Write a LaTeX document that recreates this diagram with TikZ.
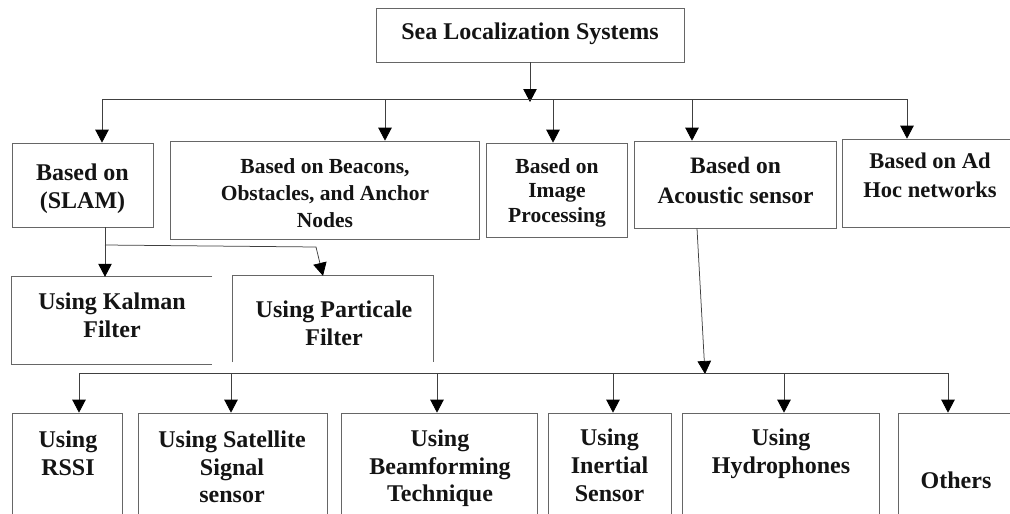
\documentclass[tikz,border=0pt]{standalone}
\usepackage{fontspec}
\setmainfont{Liberation Serif}
\usetikzlibrary{arrows.meta}
\definecolor{boxc}{HTML}{666666}
\definecolor{linec}{HTML}{404040}
\definecolor{txtc}{HTML}{141414}
\newcommand\fz[2]{\fontsize{#1pt}{#2pt}\selectfont\bfseries}
\tikzset{
  box/.style={draw=boxc, line width=0.7pt, rectangle, inner sep=0pt},
  openbox/.style={draw=none, rectangle, inner sep=0pt},
  edge/.style={draw=boxc, line width=0.7pt},
  lbl/.style={align=center, inner sep=0pt, text=txtc, anchor=north},
  conn/.style={draw=linec, line width=0.75pt},
  arr/.style={conn, -{Triangle[width=13.5pt,length=13pt,color=black,fill=black]}},
}
\begin{document}
\begin{tikzpicture}[x=1pt,y=-1pt]
\useasboundingbox[fill=white] (0,0) rectangle (1010,514);
\clip (0,0) rectangle (1010,514);

% root
\node[box, minimum width=308pt, minimum height=54pt] (root) at (530,35) {};
\node[lbl, anchor=base, font=\fz{24}{28}] (troot) at (530,39) {Sea Localization Systems};

% level 1
\node[box, minimum width=141pt, minimum height=84pt] (slam) at (82.5,185) {};
\node[lbl, font=\fz{24}{28}] (tslam) at (82.5,164) {Based on\\(SLAM)};

\node[box, minimum width=309pt, minimum height=98pt] (bea) at (324.5,190) {};
\node[lbl, font=\fz{21.5}{27}] (tbea) at (325,158) {Based on Beacons,\\Obstacles, and Anchor\\Nodes};

\node[box, minimum width=141pt, minimum height=94pt] (img) at (556.5,190) {};
\node[lbl, font=\fz{21.5}{24.5}] (timg) at (557,158) {Based on\\Image\\Processing};

\node[box, minimum width=202pt, minimum height=87pt] (aco) at (735,184.5) {};
\node[lbl, font=\fz{23.5}{30}] (taco) at (735.5,157) {Based on\\Acoustic sensor};

\node[box, minimum width=180pt, minimum height=88pt] (adh) at (932,183) {};
\node[lbl, font=\fz{22.5}{29}] (tadh) at (930,153) {Based on Ad\\Hoc networks};

% level 2 (SLAM)
\node[openbox, minimum width=200pt, minimum height=87pt] (kal) at (112,320.5) {};
\draw[edge] (kal.north east) -- (kal.north west) -- (kal.south west) -- (kal.south east);
\node[lbl, font=\fz{24}{28}] (tkal) at (112,293) {Using Kalman\\Filter};

\node[openbox, minimum width=200pt, minimum height=86pt] (par) at (333,319) {};
\draw[edge] (par.south west) -- (par.north west) -- (par.north east) -- (par.south east);
\node[lbl, font=\fz{24}{28}] (tpar) at (334,301) {Using Particale\\Filter};

% bottom row
\node[box, minimum width=110pt, minimum height=120pt] (rssi) at (67,473) {};
\node[lbl, font=\fz{24}{27.5}] (trssi) at (68,431) {Using\\RSSI};

\node[box, minimum width=189pt, minimum height=120pt] (sat) at (232.5,473) {};
\node[lbl, font=\fz{24}{27.5}] (tsat) at (232,431) {Using Satellite\\Signal\\sensor};

\node[box, minimum width=196pt, minimum height=120pt] (beam) at (439,473) {};
\node[lbl, font=\fz{24}{27.5}] (tbeam) at (440,430) {Using\\Beamforming\\Technique};

\node[box, minimum width=123pt, minimum height=120pt] (ine) at (609.5,473) {};
\node[lbl, font=\fz{24}{28}] (tine) at (609.5,429) {Using\\Inertial\\Sensor};

\node[box, minimum width=197pt, minimum height=120pt] (hyd) at (780.5,473) {};
\node[lbl, font=\fz{24}{28}] (thyd) at (781,429) {Using\\Hydrophones};

\node[box, minimum width=130pt, minimum height=120pt] (oth) at (963,473) {};
\node[lbl, anchor=base, font=\fz{24}{28}] (toth) at (956,488) {Others};

% connectors: root -> level 1
\coordinate (h1) at (530,102);
\draw[arr] (root.south) -- (h1);
\coordinate (bl) at (102,99);
\coordinate (b2) at (385,99);
\coordinate (b3) at (553,99);
\coordinate (b4) at (692,99);
\coordinate (br) at (907,99);
\draw[conn] (bl) -- (br);
\draw[arr] (bl) -- (bl |- slam.north);
\draw[arr] (b2) -- (b2 |- bea.north);
\draw[arr] (b3) -- (b3 |- img.north);
\draw[arr] (b4) -- (b4 |- aco.north);
\draw[arr] (br) -- (br |- adh.north);

% SLAM -> filters
\coordinate (s1) at (105,245);
\coordinate (s2) at (316,247);
\coordinate (s3) at (323,0);
\draw[conn] (s1 |- slam.south) -- (s1);
\draw[arr] (s1) -- (s1 |- kal.north);
\draw[arr] (s1) -- (s2) -- (s3 |- par.north);

% Acoustic -> bottom row
\coordinate (a0) at (697,0);
\coordinate (h2) at (705,374);
\draw[arr] (a0 |- aco.south) -- (h2);
\coordinate (cl) at (79,373);
\coordinate (c2) at (231,373);
\coordinate (c3) at (437,373);
\coordinate (c4) at (613,373);
\coordinate (c5) at (784,373);
\coordinate (cr) at (948,373);
\draw[conn] (cl) -- (cr);
\draw[arr] (cl) -- (cl |- rssi.north);
\draw[arr] (c2) -- (c2 |- sat.north);
\draw[arr] (c3) -- (c3 |- beam.north);
\draw[arr] (c4) -- (c4 |- ine.north);
\draw[arr] (c5) -- (c5 |- hyd.north);
\draw[arr] (cr) -- (cr |- oth.north);
\end{tikzpicture}
\end{document}
